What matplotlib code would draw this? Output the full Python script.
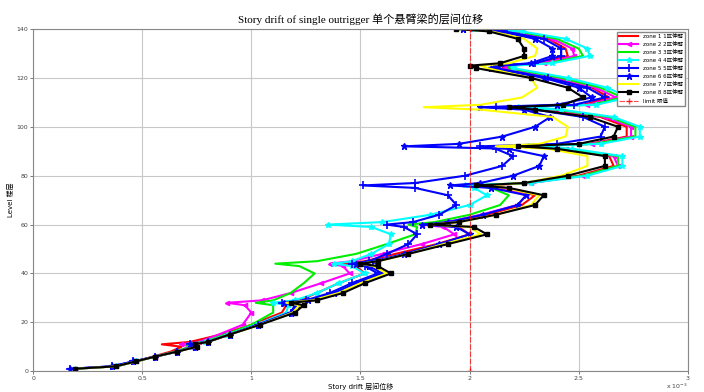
import matplotlib.pyplot as plt

# storeys where drift was read (shared by every zone curve)
levels = [1, 2, 4, 6, 8, 10,
          11, 12, 15, 19, 24, 27,
          28, 29, 32, 36, 40, 43,
          44, 45, 48, 52, 56, 59,
          60, 61, 64, 68, 72, 75,
          76, 77, 80, 84, 88, 91,
          92, 93, 96, 100, 104, 107,
          108, 109, 112, 116, 120, 124,
          125, 126, 129, 132, 136, 139, 140]

# story drift, x 10^-3
zone1 = [0.19, 0.38, 0.47, 0.55, 0.63, 0.68,
         0.59, 0.72, 0.86, 1.00, 1.14, 1.16,
         1.12, 1.22, 1.30, 1.40, 1.52, 1.48,
         1.42, 1.52, 1.66, 1.85, 2.00, 1.95,
         1.80, 1.92, 2.08, 2.24, 2.30, 2.16,
         2.05, 2.28, 2.50, 2.66, 2.64, 2.42,
         2.25, 2.55, 2.72, 2.72, 2.60, 2.36,
         2.20, 2.52, 2.64, 2.56, 2.38, 2.15,
         2.16, 2.32, 2.45, 2.44, 2.36, 2.18, 2.00]
zone2 = [0.19, 0.38, 0.47, 0.56, 0.65, 0.72,
         0.68, 0.76, 0.85, 0.96, 1.00, 0.97,
         0.89, 1.05, 1.18, 1.32, 1.45, 1.42,
         1.36, 1.46, 1.60, 1.78, 1.93, 1.88,
         1.78, 1.90, 2.05, 2.22, 2.26, 2.14,
         2.05, 2.28, 2.52, 2.68, 2.66, 2.44,
         2.25, 2.56, 2.74, 2.74, 2.62, 2.38,
         2.20, 2.54, 2.67, 2.58, 2.40, 2.16,
         2.17, 2.34, 2.48, 2.47, 2.38, 2.20, 2.00]
zone3 = [0.19, 0.38, 0.47, 0.56, 0.65, 0.72,
         0.70, 0.78, 0.88, 1.00, 1.10, 1.10,
         1.02, 1.10, 1.18, 1.24, 1.29, 1.22,
         1.11, 1.30, 1.48, 1.62, 1.75, 1.76,
         1.72, 1.84, 2.00, 2.14, 2.18, 2.10,
         2.00, 2.26, 2.52, 2.68, 2.68, 2.45,
         2.25, 2.57, 2.76, 2.76, 2.64, 2.40,
         2.20, 2.56, 2.70, 2.60, 2.42, 2.18,
         2.18, 2.36, 2.52, 2.50, 2.40, 2.22, 2.01]
zone4 = [0.19, 0.38, 0.47, 0.56, 0.66, 0.73,
         0.72, 0.79, 0.89, 1.02, 1.16, 1.17,
         1.10, 1.20, 1.30, 1.40, 1.52, 1.46,
         1.38, 1.46, 1.55, 1.63, 1.64, 1.55,
         1.35, 1.60, 1.82, 2.00, 2.08, 2.02,
         1.98, 2.28, 2.54, 2.70, 2.70, 2.47,
         2.27, 2.60, 2.78, 2.78, 2.66, 2.42,
         2.22, 2.58, 2.73, 2.63, 2.45, 2.20,
         2.20, 2.38, 2.55, 2.54, 2.44, 2.24, 2.02]
zone5 = [0.17, 0.36, 0.46, 0.56, 0.66, 0.74,
         0.72, 0.80, 0.90, 1.03, 1.18, 1.20,
         1.14, 1.25, 1.36, 1.46, 1.58, 1.52,
         1.46, 1.54, 1.62, 1.72, 1.76, 1.70,
         1.62, 1.74, 1.86, 1.94, 1.90, 1.75,
         1.51, 1.75, 1.98, 2.15, 2.20, 2.12,
         2.05, 2.40, 2.60, 2.62, 2.52, 2.30,
         2.12, 2.48, 2.62, 2.54, 2.36, 2.12,
         2.14, 2.30, 2.42, 2.42, 2.34, 2.16, 1.98]
zone6 = [0.17, 0.36, 0.46, 0.56, 0.66, 0.74,
         0.72, 0.80, 0.90, 1.03, 1.18, 1.21,
         1.15, 1.26, 1.38, 1.48, 1.60, 1.54,
         1.48, 1.56, 1.70, 1.86, 2.00, 1.94,
         1.78, 1.90, 2.06, 2.22, 2.26, 2.10,
         1.91, 2.05, 2.20, 2.32, 2.34, 2.18,
         1.70, 1.95, 2.15, 2.30, 2.37, 2.25,
         2.05, 2.40, 2.56, 2.50, 2.34, 2.10,
         2.12, 2.28, 2.38, 2.38, 2.30, 2.14, 1.97]
zone7 = [0.19, 0.38, 0.47, 0.56, 0.66, 0.75,
         0.74, 0.80, 0.90, 1.04, 1.19, 1.22,
         1.16, 1.28, 1.40, 1.50, 1.62, 1.56,
         1.50, 1.58, 1.72, 1.88, 2.05, 2.00,
         1.82, 1.95, 2.12, 2.28, 2.32, 2.16,
         2.08, 2.25, 2.42, 2.54, 2.54, 2.36,
         2.12, 2.32, 2.44, 2.45, 2.38, 2.05,
         1.79, 2.05, 2.24, 2.31, 2.28, 2.08,
         2.05, 2.18, 2.30, 2.31, 2.25, 2.10, 1.96]
zone8 = [0.19, 0.38, 0.47, 0.56, 0.66, 0.75,
         0.74, 0.80, 0.90, 1.04, 1.20, 1.24,
         1.18, 1.30, 1.42, 1.52, 1.64, 1.58,
         1.50, 1.58, 1.72, 1.90, 2.08, 2.02,
         1.82, 1.95, 2.12, 2.30, 2.34, 2.18,
         2.03, 2.25, 2.45, 2.62, 2.62, 2.40,
         2.22, 2.50, 2.66, 2.68, 2.55, 2.30,
         2.18, 2.43, 2.52, 2.45, 2.28, 2.03,
         2.00, 2.14, 2.25, 2.25, 2.22, 2.09, 1.94]

limit_levels = [0, 140]
limit_drift = [2.0, 2.0]

labels = ['zone 1 1区伸臂', 'zone 2 2区伸臂', 'zone 3 3区伸臂', 'zone 4 4区伸臂',
          'zone 5 5区伸臂', 'zone 6 6区伸臂', 'zone 7 7区伸臂', 'zone 8 8区伸臂']

plt.rcParams['font.family'] = ['DejaVu Sans', 'Noto Sans CJK SC']

fig = plt.figure(figsize=(7.04, 3.92), dpi=100)
ax = fig.add_axes([0.047, 0.053, 0.930, 0.873])

ax.plot(zone1, levels, color='red', lw=1.5, label=labels[0])
ax.plot(zone2, levels, color='magenta', lw=1.5, marker='<', ms=3, label=labels[1])
ax.plot(zone3, levels, color='#00ee00', lw=1.5, label=labels[2])
ax.plot(zone4, levels, color='cyan', lw=1.5, marker='*', ms=4, label=labels[3])
ax.plot(zone5, levels, color='blue', lw=1.5, marker='+', ms=6, mew=1.2, label=labels[4])
ax.plot(zone6, levels, color='blue', lw=1.5, marker='*', ms=5, label=labels[5])
ax.plot(zone7, levels, color='yellow', lw=1.5, label=labels[6])
ax.plot(zone8, levels, color='black', lw=1.5, marker='s', ms=3, label=labels[7])
ax.plot(limit_drift, limit_levels, color='red', lw=0.8, dashes=(5, 1.5), marker='+',
        ms=4, alpha=0.7, label='limit 限值')

ax.set_xlim(0, 3)
ax.set_ylim(0, 140)
ax.set_xticks([0, 0.5, 1, 1.5, 2, 2.5, 3])
ax.set_xticklabels(['0', '0.5', '1', '1.5', '2', '2.5', '3'])
ax.set_yticks(range(0, 141, 20))
ax.tick_params(labelsize=4.5, length=2, width=0.5, pad=1.5, colors='#444444')
ax.grid(True, color='#c8c8c8', lw=0.8)
for s in ax.spines.values():
    s.set_color('#888888')
    s.set_linewidth(0.8)

ax.set_title('Story drift of single outrigger 单个悬臂梁的层间位移',
             family=['Liberation Serif', 'Noto Sans CJK SC'], fontsize=8, pad=4)
ax.set_xlabel('Story drift 层间位移', fontsize=5, labelpad=1)
ax.set_ylabel('Level 楼层', fontsize=5, labelpad=2)
ax.text(1.0, -0.03, r'x 10$^{-3}$', transform=ax.transAxes, fontsize=4.5,
        ha='right', va='top', color='#444444')

ax.legend(loc='upper right', fontsize=4, handlelength=3.5, labelspacing=0.55,
          borderpad=0.4, framealpha=1, edgecolor='#888888', fancybox=False)

fig.savefig('out.png', dpi=100)
